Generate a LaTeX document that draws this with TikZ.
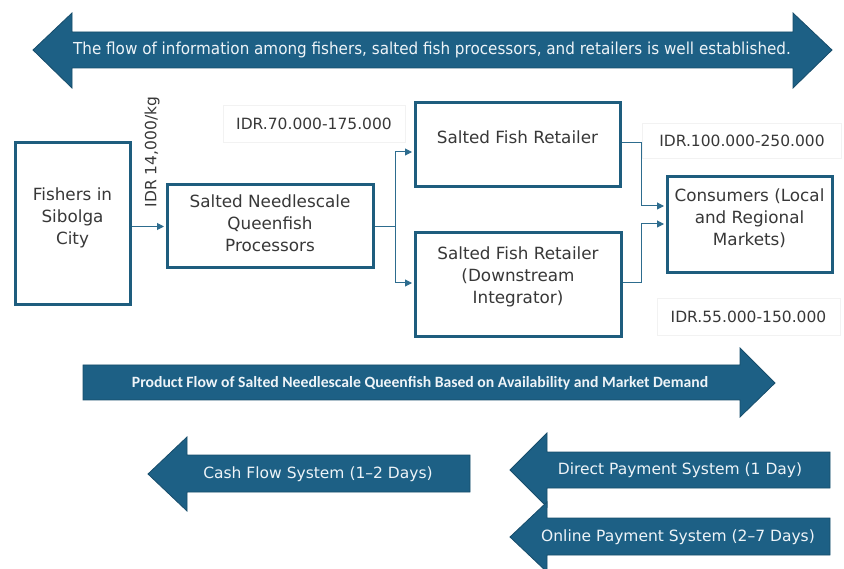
\documentclass[tikz,border=0pt]{standalone}
\usepackage{fontspec}
\setmainfont{DejaVu Sans}
\newfontfamily\narrowfont[FakeStretch=0.92]{DejaVu Sans}
\newfontfamily\bannerfont{Carlito}
\usetikzlibrary{arrows.meta,calc}

\definecolor{flowblue}{HTML}{1D6085}
\definecolor{flowdark}{HTML}{174D6B}
\definecolor{boxblue}{HTML}{1E5D7E}
\definecolor{lineblue}{HTML}{2D6C8E}
\definecolor{inkgray}{HTML}{383838}
\definecolor{arrowink}{HTML}{EEF4F8}

\tikzset{
  box/.style={draw=boxblue, line width=3pt, fill=white, inner sep=0pt},
  boxtext/.style={text=inkgray, font=\fontsize{16.8}{22}\selectfont, align=center, inner sep=0pt},
  price/.style={draw=black!5, fill=white, line width=0.6pt, text=inkgray,
    font=\fontsize{15.5}{18}\selectfont, inner sep=0pt},
  wire/.style={draw=lineblue, line width=1pt},
  link/.style={wire, -{Triangle[length=7pt,width=7pt]}, shorten >=1.5pt},
  bigarrow/.style={fill=flowblue, draw=flowdark, line width=0.8pt, line join=miter},
  arrowtext/.style={text=arrowink, inner sep=0pt},
  paytext/.style={arrowtext, font=\fontsize{15.5}{18}\selectfont},
}

\begin{document}
\begin{tikzpicture}[x=1pt,y=-1pt]
\useasboundingbox (0,0) rectangle (844,569);

% information flow (double arrow)
\path[bigarrow] (33,50) -- (72,13) -- (72,32) -- (793,32) -- (793,13) -- (832,50)
  -- (793,88) -- (793,68) -- (72,68) -- (72,88) -- cycle;
\node[arrowtext, font=\narrowfont\fontsize{16.5}{18}\selectfont] (info) at (432,50)
  {The flow of information among fishers, salted fish processors, and retailers is well established.};

% price tags
\node[price, minimum width=182, minimum height=37] (p70) at (314,123.5) {IDR.70.000-175.000};
\node[price, minimum width=199, minimum height=35] (p100) at (742,140.5) {IDR.100.000-250.000};
\node[price, minimum width=183, minimum height=37] (p55) at (748.5,316.5) {IDR.55.000-150.000};
\node[text=inkgray, font=\fontsize{15.5}{18}\selectfont, rotate=90, inner sep=0pt] (pkg) at (152,152) {IDR 14,000/kg};

% actors
\node[box, minimum width=115, minimum height=162] (fishers) at (72.5,224) {};
\node[boxtext] (fisherst) at (72.5,218) {Fishers in\\Sibolga\\City};
\node[box, minimum width=206, minimum height=83] (proc) at (270,226.5) {};
\node[boxtext] (proct) at (270,223) {Salted Needlescale\\Queenfish\\Processors};
\node[box, minimum width=205, minimum height=84] (ret1) at (517.5,145) {};
\node[boxtext] (ret1t) at (517.5,137) {Salted Fish Retailer};
\node[box, minimum width=206, minimum height=104] (ret2) at (518,285) {};
\node[boxtext] (ret2t) at (518,277) {Salted Fish Retailer\\(Downstream\\Integrator)};
\node[box, minimum width=165, minimum height=96] (cons) at (749.5,225) {};
\node[boxtext] (const) at (749.5,218) {Consumers (Local\\and Regional\\Markets)};

% connectors
\draw[link] (proc.west -| fishers.east) -- (proc.west);
\coordinate (split) at ($(proc.east)+(21,0)$);
\path (ret1.west) ++(0,7) coordinate (r1in);
\path (ret2.west) ++(0,-2) coordinate (r2in);
\draw[wire] (proc.east) -- (split);
\draw[link] (split) |- (r1in);
\draw[link] (split) |- (r2in);
\path (cons.west) ++(0,-19) coordinate (c1in);
\path (cons.west) ++(0,-1) coordinate (c2in);
\path (ret1.east) ++(0,-2) coordinate (r1out);
\path (ret2.east) ++(0,-2) coordinate (r2out);
\draw[link] (r1out) -- ++(20,0) |- (c1in);
\draw[link] (r2out) -- ++(19,0) |- (c2in);

% product flow
\path[bigarrow] (83,365) -- (740,365) -- (740,348) -- (775,383) -- (740,417)
  -- (740,400) -- (83,400) -- cycle;
\node[arrowtext, font=\bannerfont\bfseries\fontsize{15.7}{18}\selectfont] (product) at (420,383)
  {Product Flow of Salted Needlescale Queenfish Based on Availability and Market Demand};

% payment flows
\path[bigarrow] (148,474) -- (187,437) -- (187,455) -- (470,455) -- (470,492)
  -- (187,492) -- (187,511) -- cycle;
\node[paytext] (cash) at (318,474) {Cash Flow System (1--2 Days)};
\path[bigarrow] (510,470) -- (547,433) -- (547,452) -- (830,452) -- (830,488)
  -- (547,488) -- (547,507) -- cycle;
\node[paytext] (direct) at (680,470) {Direct Payment System (1 Day)};
\path[bigarrow] (510,537) -- (547,502) -- (547,518) -- (830,518) -- (830,555)
  -- (547,555) -- (547,572) -- cycle;
\node[paytext] (online) at (678,537) {Online Payment System (2--7 Days)};
\end{tikzpicture}
\end{document}
